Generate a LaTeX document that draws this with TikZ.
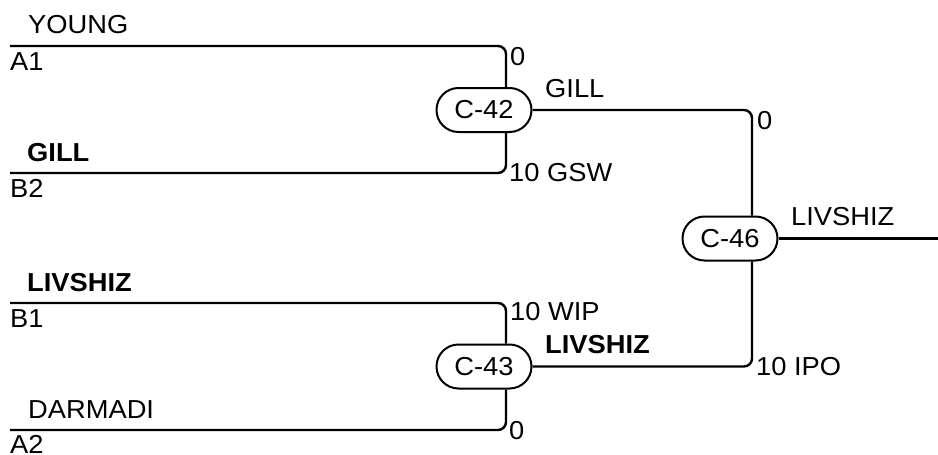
\documentclass[tikz,border=0pt]{standalone}
\usepackage{fontspec}
\setmainfont{Liberation Sans}[FakeStretch=1.05]
\usetikzlibrary{shapes.misc}
\begin{document}
\begin{tikzpicture}[x=1pt,y=-1pt,
  font=\fontsize{26}{30}\selectfont,
  wire/.style={line width=2.4pt, rounded corners=8pt},
  match/.style={draw, line width=2pt, rounded rectangle, minimum width=95pt, minimum height=44pt, inner sep=0pt},
  lbl/.style={inner sep=0pt},
  win/.style={inner sep=0pt, font=\fontsize{26}{30}\selectfont\bfseries}]
\useasboundingbox (0,0) rectangle (938,455);

% matches
\node[match] (c42) at (484,110) {C-42};
\node[match] (c43) at (484,366.5) {C-43};
\node[match] (c46) at (730,238.5) {C-46};

% entry line starts
\coordinate (a1) at (10,46);
\coordinate (b2) at (10,173);
\coordinate (b1) at (10,303);
\coordinate (a2) at (10,430);
\coordinate (out) at (938,238.5);

% connectors
\draw[wire] (a1) -| ([xshift=22pt]c42.north);
\draw[wire] (b2) -| ([xshift=22pt]c42.south);
\draw[wire] (b1) -| ([xshift=22pt]c43.north);
\draw[wire] (a2) -| ([xshift=22pt]c43.south);
\draw[wire] (c42.east) -| ([xshift=22pt]c46.north);
\draw[wire] (c43.east) -| ([xshift=22pt]c46.south);
\draw[wire] (c46.east) -- (out);

% player names above lines
\node[lbl, anchor=base west] (nyoung) at (28,33) {YOUNG};
\node[win, anchor=base west] (ngill) at (27,161) {GILL};
\node[win, anchor=base west] (nliv) at (27,291) {LIVSHIZ};
\node[lbl, anchor=base west] (ndar) at (28,418) {DARMADI};

% seeds below lines
\node[lbl, anchor=base west] (sa1) at (10,70) {A1};
\node[lbl, anchor=base west] (sb2) at (10,197) {B2};
\node[lbl, anchor=base west] (sb1) at (10,327) {B1};
\node[lbl, anchor=base west] (sa2) at (10,453) {A2};

% scores
\node[lbl, anchor=north west] (s1) at (510,47) {0};
\node[lbl, anchor=west] (s2) at (509,173) {10 GSW};
\node[lbl, anchor=north west] (s3) at (510,302) {10 WIP};
\node[lbl, anchor=west] (s4) at (509,431) {0};
\node[lbl, anchor=north west] (s5) at (757,111) {0};
\node[lbl, anchor=west] (s6) at (756,366.5) {10 IPO};

% winners of matches
\node[lbl, anchor=base west] (w42) at (545,97) {GILL};
\node[win, anchor=base west] (w43) at (545,353) {LIVSHIZ};
\node[lbl, anchor=base west] (w46) at (791,225) {LIVSHIZ};
\end{tikzpicture}
\end{document}
